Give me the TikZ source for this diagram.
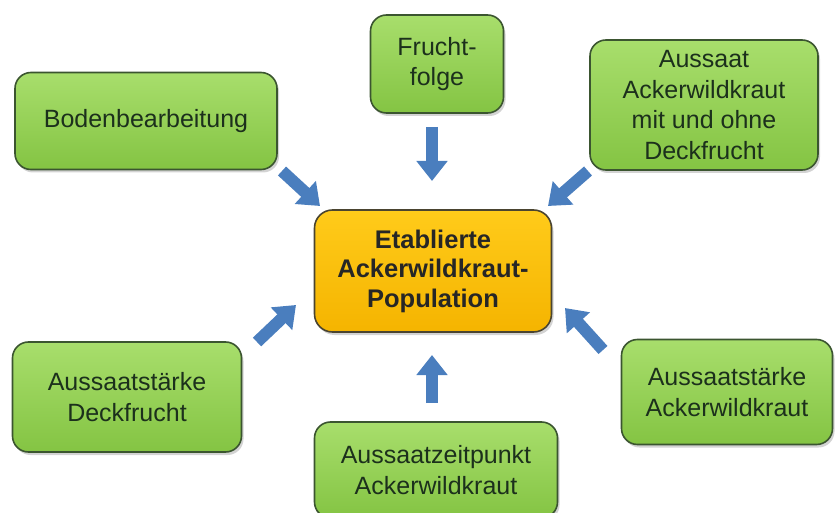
\documentclass[tikz,border=0pt]{standalone}
\usepackage{fontspec}
\setmainfont{Liberation Sans}
\usetikzlibrary{shadows,arrows.meta}
\definecolor{gtop}{HTML}{A8DE6C}
\definecolor{gbot}{HTML}{84C443}
\definecolor{gline}{HTML}{3B5530}
\definecolor{gtext}{HTML}{1C301C}
\definecolor{ytop}{HTML}{FFCB1A}
\definecolor{ybot}{HTML}{F5B400}
\definecolor{yline}{HTML}{4A4430}
\definecolor{ablue}{HTML}{4A7EBE}
\tikzset{
  gbox/.style={draw=gline, line width=1.6pt, rounded corners=16pt,
    top color=gtop, bottom color=gbot, align=center, text=gtext,
    font=\fontsize{25}{30.5}\selectfont, inner sep=0pt,
    drop shadow={shadow xshift=2pt, shadow yshift=-3pt, opacity=0.35}},
  ybox/.style={draw=yline, line width=1.6pt, rounded corners=18pt,
    top color=ytop, bottom color=ybot, align=center, text=black!85,
    font=\fontsize{25.5}{29.5}\selectfont\bfseries, inner sep=0pt,
    drop shadow={shadow xshift=2pt, shadow yshift=-3pt, opacity=0.35}},
  barrow/.style={draw=ablue, line width=12pt, -{Triangle[length=20pt,width=30pt]}}
}
\begin{document}
\begin{tikzpicture}[x=1pt,y=-1pt]
\useasboundingbox (0,0) rectangle (835,513);
\node[ybox, minimum width=237pt, minimum height=122pt] (c) at (433,271) {Etablierte\\Ackerwildkraut-\\Population};
\node[gbox, minimum width=262pt, minimum height=97pt] (b1) at (146,121) {Bodenbearbeitung};
\node[gbox, minimum width=133pt, minimum height=98pt] (b2) at (437,64) {Frucht-\\folge};
\node[gbox, minimum width=228pt, minimum height=130pt] (b3) at (704,105) {Aussaat\\Ackerwildkraut\\mit und ohne\\Deckfrucht};
\node[gbox, minimum width=229pt, minimum height=110pt] (b4) at (127,397) {Aussaatstärke\\Deckfrucht};
\node[gbox, minimum width=243pt, minimum height=96pt] (b5) at (436,470) {Aussaatzeitpunkt\\Ackerwildkraut};
\node[gbox, minimum width=211pt, minimum height=105pt] (b6) at (727,392) {Aussaatstärke\\Ackerwildkraut};
\coordinate (t1) at (282,171); \coordinate (h1) at (320,206);
\coordinate (t2) at (432,127); \coordinate (h2) at (432,181);
\coordinate (t3) at (588,171); \coordinate (h3) at (548,206);
\coordinate (t4) at (257,342); \coordinate (h4) at (296,305);
\coordinate (t5) at (432,403); \coordinate (h5) at (432,355);
\coordinate (t6) at (603,350); \coordinate (h6) at (565,308);
\foreach \i in {1,...,6} {\draw[barrow] (t\i) -- (h\i);}
\end{tikzpicture}
\end{document}
